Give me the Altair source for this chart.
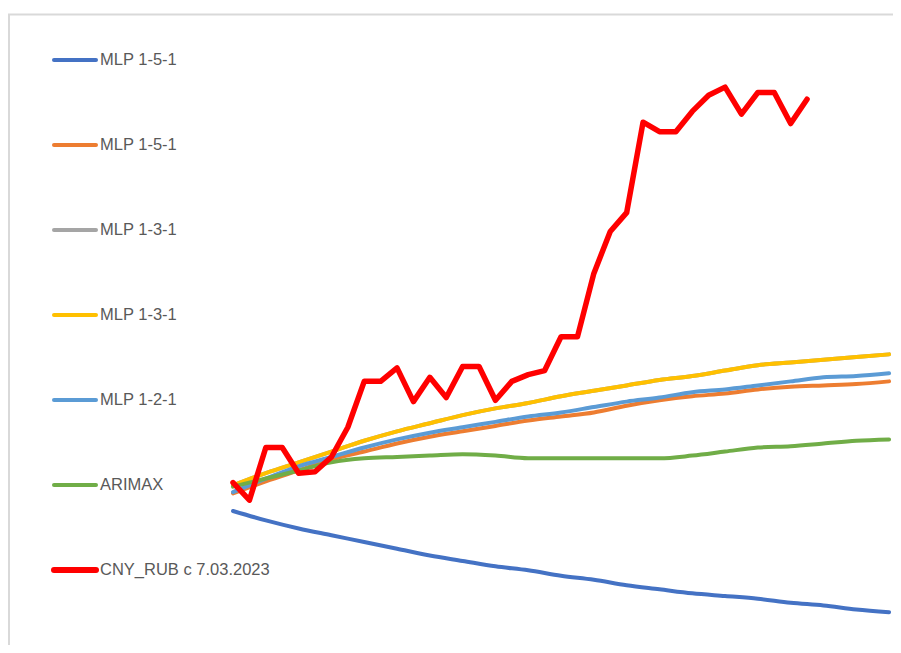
import altair as alt
import pandas as pd

# ---- data -------------------------------------------------------------
keys = ["s1", "s2", "s3", "s4", "s5", "s6", "s7"]
labels = ["MLP 1-5-1", "MLP 1-5-1", "MLP 1-3-1", "MLP 1-3-1", "MLP 1-2-1",
          "ARIMAX", "CNY_RUB c 7.03.2023"]
colors = ["#4472C4", "#ED7D31", "#A5A5A5", "#FFC000", "#5B9BD5", "#70AD47", "#FF0000"]

forecast_steps = list(range(0, 41, 2))
mlp151_a = [10.80, 10.73, 10.67, 10.62, 10.57, 10.52, 10.47, 10.43, 10.39, 10.36, 10.32,
            10.29, 10.25, 10.22, 10.19, 10.17, 10.15, 10.12, 10.10, 10.07, 10.05]
mlp151_b = [10.93, 11.02, 11.10, 11.18, 11.24, 11.30, 11.35, 11.39, 11.43, 11.47, 11.50,
            11.53, 11.58, 11.62, 11.65, 11.67, 11.70, 11.72, 11.73, 11.74, 11.76]
mlp131_a = [10.99, 11.08, 11.16, 11.24, 11.32, 11.39, 11.45, 11.51, 11.56, 11.60, 11.65,
            11.69, 11.73, 11.77, 11.80, 11.84, 11.88, 11.90, 11.92, 11.94, 11.96]
mlp131_b = [10.99, 11.08, 11.16, 11.24, 11.32, 11.39, 11.45, 11.51, 11.56, 11.60, 11.65,
            11.69, 11.73, 11.77, 11.80, 11.84, 11.88, 11.90, 11.92, 11.94, 11.96]
mlp121 = [10.94, 11.04, 11.13, 11.20, 11.27, 11.33, 11.38, 11.42, 11.46, 11.50, 11.53,
          11.57, 11.61, 11.64, 11.68, 11.70, 11.73, 11.76, 11.79, 11.80, 11.82]
arimax = [10.98, 11.04, 11.10, 11.16, 11.19, 11.20, 11.21, 11.22, 11.21, 11.19, 11.19,
          11.19, 11.19, 11.19, 11.21, 11.24, 11.27, 11.28, 11.30, 11.32, 11.33]

actual_steps = list(range(36))
cny_rub = [11.01, 10.88, 11.27, 11.27, 11.08, 11.09, 11.20, 11.42, 11.76, 11.76, 11.86, 11.61,
           11.79, 11.64, 11.87, 11.87, 11.62, 11.76, 11.81, 11.84, 12.09, 12.09, 12.56, 12.87,
           13.01, 13.68, 13.61, 13.61, 13.76, 13.88, 13.94, 13.74, 13.90, 13.90, 13.67, 13.85]

# ---- tables -----------------------------------------------------------
fc_series = [mlp151_a, mlp151_b, mlp131_a, mlp131_b, mlp121, arimax]
rows = []
for k, vals in zip(keys[:6], fc_series):
    for s, v in zip(forecast_steps, vals):
        rows.append({"key": k, "step": s, "value": v})
fc_df = pd.DataFrame(rows)
act_df = pd.DataFrame({"key": "s7", "step": actual_steps, "value": cny_rub})
leg_df = pd.DataFrame({"key": keys, "label": labels, "row": list(range(len(keys)))})

W, H = 885, 637
color_scale = alt.Scale(domain=keys, range=colors)
x_scale = alt.Scale(domain=[-13.72, 40.24], nice=False, zero=False)
y_scale = alt.Scale(domain=[9.807, 14.526], nice=False, zero=False)

one = alt.Data(values=[{}])
border_top = alt.Chart(one).mark_rule(color="#d9d9d9", strokeWidth=2).encode(
    x=alt.value(0), x2=alt.value(W), y=alt.value(6.5))
border_left = alt.Chart(one).mark_rule(color="#d9d9d9", strokeWidth=2).encode(
    x=alt.value(1), y=alt.value(6), y2=alt.value(H))

fc = alt.Chart(fc_df).mark_line(strokeWidth=4, strokeCap="round", strokeJoin="round",
                                interpolate="monotone").encode(
    x=alt.X("step:Q", scale=x_scale, axis=None),
    y=alt.Y("value:Q", scale=y_scale, axis=None),
    color=alt.Color("key:N", scale=color_scale, legend=None),
)
act = alt.Chart(act_df).mark_line(strokeWidth=5.5, strokeCap="round", strokeJoin="round").encode(
    x=alt.X("step:Q", scale=x_scale, axis=None),
    y=alt.Y("value:Q", scale=y_scale, axis=None),
    color=alt.Color("key:N", scale=color_scale, legend=None),
)

leg_y = alt.Y("row:Q", scale=alt.Scale(domain=[-52 / 85, (H - 52) / 85], reverse=True,
                                        nice=False, zero=False), axis=None)
leg_rule = alt.Chart(leg_df).mark_rule(strokeCap="round").encode(
    x=alt.value(46), x2=alt.value(88), y=leg_y,
    color=alt.Color("key:N", scale=color_scale, legend=None),
    strokeWidth=alt.condition("datum.key == 's7'", alt.value(6), alt.value(4)),
)
leg_text = alt.Chart(leg_df).mark_text(
    align="left", baseline="middle", font="Liberation Sans", fontSize=16.5, color="#595959"
).encode(x=alt.value(92), y=leg_y, text="label:N")

lines = alt.layer(fc, act)
legend = alt.layer(leg_rule, leg_text)

chart = alt.layer(border_top, border_left, lines, legend).resolve_scale(
    y="independent"
).properties(
    width=W, height=H, padding=0, autosize=alt.AutoSizeParams(type="none")
).configure_view(stroke=None)

chart.save("out.html", embed_options={"renderer": "svg", "actions": False})
